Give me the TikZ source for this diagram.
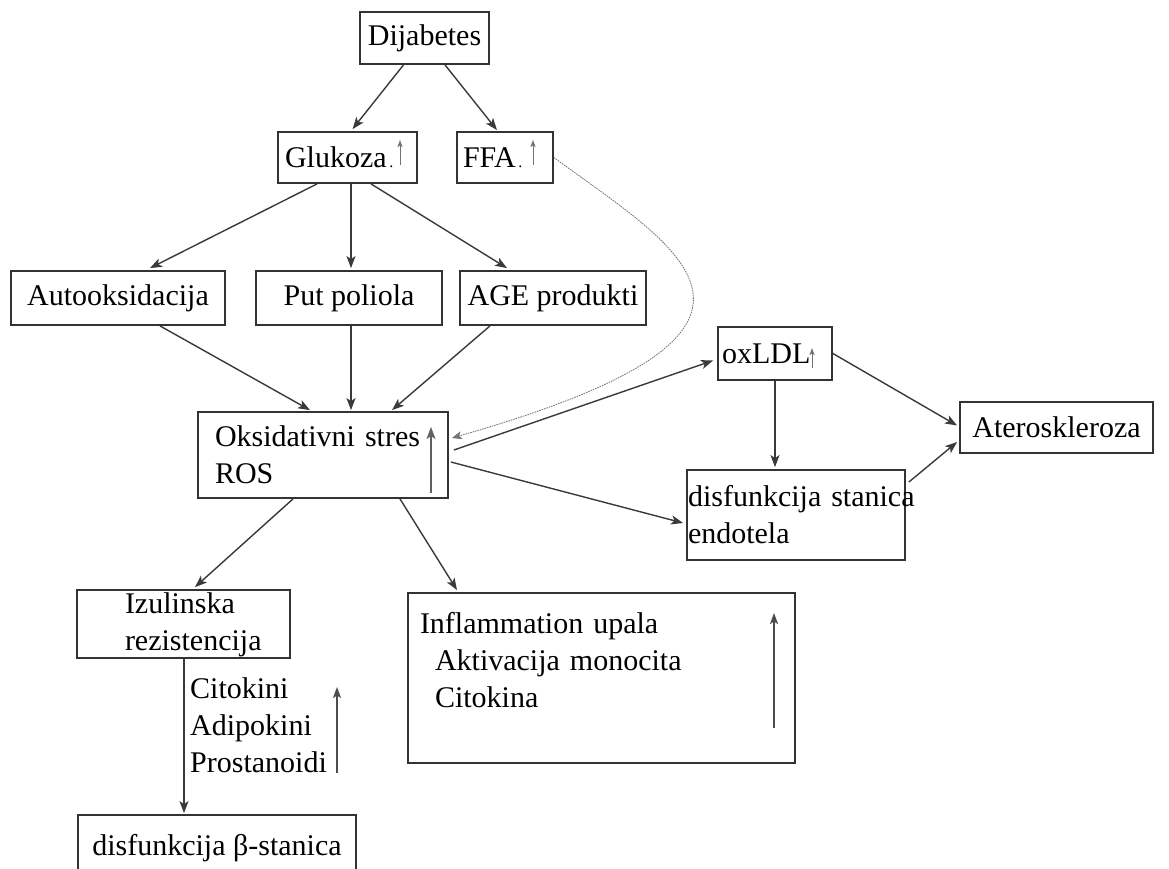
\documentclass[tikz,border=0pt]{standalone}
\usepackage{fontspec}
\setmainfont{Liberation Serif}
\usetikzlibrary{arrows.meta,calc}
\definecolor{edgec}{HTML}{3A3A3A}
\definecolor{boxc}{HTML}{333333}
\tikzset{
 box/.style={draw=boxc, line width=1.8pt, rectangle, inner sep=0pt, font=\fontsize{30}{37}\selectfont},
 lbox/.style={box, align=left},
 arr/.style={draw=edgec, line width=1.4pt, -{Stealth[length=12pt,width=9pt,inset=3pt]}},
 bigup/.style={draw=black!62, line width=1.8pt, -{Stealth[length=12pt,width=9pt,inset=3pt]}},
 midup/.style={draw=black!70, line width=1.4pt, -{Stealth[length=11pt,width=8pt,inset=2.5pt]}},
 smallup/.style={draw=black!55, line width=1pt, -{Stealth[length=7pt,width=5pt,inset=1.5pt]}},
 curv/.style={draw=black!55, line width=0.8pt, dash pattern=on 1.6pt off 0.9pt, -{Stealth[length=10pt,width=8pt,inset=2.5pt]}},
 plain/.style={inner sep=0pt, font=\fontsize{30}{37}\selectfont, align=left},
}
\begin{document}
\begin{tikzpicture}[x=1pt,y=-1pt]
\useasboundingbox[fill=white] (0,0) rectangle (1169,868);

\node[box, minimum width=129pt, minimum height=52pt] (dij) at (424.5,38) {Dijabetes};
\node[lbox, minimum width=139pt, minimum height=51pt, text width=125pt, inner xsep=7pt] (gluk) at (347.5,157.5) {Glukoza{\fontsize{16}{16}\selectfont\,.}};
\node[lbox, minimum width=96pt, minimum height=51pt, text width=84pt, inner xsep=6pt] (ffa) at (505,157.5) {FFA{\fontsize{16}{16}\selectfont\,.}};
\node[box, minimum width=214pt, minimum height=54pt] (auto) at (118,298) {Autooksidacija};
\node[box, minimum width=186pt, minimum height=54pt] (put) at (349,298) {Put poliola};
\node[box, minimum width=186pt, minimum height=54pt] (age) at (553,298) {AGE produkti};
\node[lbox, minimum width=250pt, minimum height=86pt, text width=216pt, inner xsep=17pt] (oks) at (323,455) {Oksidativni stres\\ROS};
\node[lbox, minimum width=114pt, minimum height=53pt, text width=106pt, inner xsep=4pt] (oxl) at (775,353.5) {oxLDL};
\node[box, minimum width=193pt, minimum height=51pt] (ater) at (1056.5,427.5) {Ateroskleroza};
\node[lbox, minimum width=218pt, minimum height=90pt, text width=216pt, inner xsep=1pt] (disf) at (796,515) {\mbox{disfunkcija stanica}\\endotela};
\node[lbox, minimum width=213pt, minimum height=68pt, text width=117pt, inner xsep=48pt, text height=23pt] (izul) at (183.5,624) {\mbox{Izulinska}\\\mbox{rezistencija}};
\node[plain, anchor=north west] (cito) at (190,677.5) {Citokini\\Adipokini\\Prostanoidi};
\node[box, minimum width=278pt, minimum height=66pt] (beta) at (217,848) {disfunkcija β-stanica};
\node[lbox, minimum width=387pt, minimum height=170pt, text width=363pt, inner xsep=12pt] (infl) at (601.5,678) {Inflammation upala\\\hspace*{15pt}Aktivacija monocita\\\hspace*{15pt}Citokina\\[-1pt]\mbox{}};

% arrows inside boxes
\draw[smallup] (400,165) -- (400,140);
\draw[smallup] (533,165) -- (533,140);
\draw[bigup] (431,493) -- (431,427);
\draw[smallup] (812,368) -- (812,348);
\draw[midup] (337,773) -- (337,687);
\draw[midup] (774,728) -- (774,613);

% connectors
\draw[arr] ($(dij.south)+(-21,0)$) -- ($(gluk.north)+(5,-2)$);
\draw[arr] ($(dij.south)+(20.5,0)$) -- ($(ffa.north)+(-8,-1)$);
\draw[arr] ($(gluk.south)+(-30.5,0)$) -- ($(auto.north)+(32,-2)$);
\draw[arr] ($(gluk.south)+(3.5,0)$) -- ($(put.north)+(2,-2)$);
\draw[arr] ($(gluk.south)+(23.5,0)$) -- ($(age.north)+(-46,-2)$);
\draw[arr] ($(auto.south)+(42,0)$) -- ($(oks.north)+(-13,-1)$);
\draw[arr] ($(put.south)+(2,0)$) -- ($(oks.north)+(28,-1)$);
\draw[arr] ($(age.south)+(-63,0)$) -- ($(oks.north)+(69,-1)$);
\draw[curv] (ffa.east) .. controls (680,250) and (830,330) .. ($(oks.east)+(3,-17)$);
\draw[arr] ($(oks.east)+(5,-5)$) -- ($(oxl.west)+(-4,7)$);
\draw[arr] ($(oks.east)+(2,7)$) -- ($(disf.west)+(-3,8)$);
\draw[arr] (oxl.south) -- ($(disf.north)+(-21,-2)$);
\draw[arr] (oxl.east) -- ($(ater.west)+(-2,-2)$);
\draw[arr] ($(disf.east)+(3,-33)$) -- ($(ater.west)+(-2,14.5)$);
\draw[arr] ($(oks.south)+(-30,0)$) -- ($(izul.north)+(11.5,-2)$);
\draw[arr] ($(oks.south)+(77,0)$) -- ($(infl.north)+(-144.5,-2)$);
\draw[arr] ($(izul.south)+(0.5,0)$) -- ($(beta.north)+(-33,-1)$);
\end{tikzpicture}
\end{document}
